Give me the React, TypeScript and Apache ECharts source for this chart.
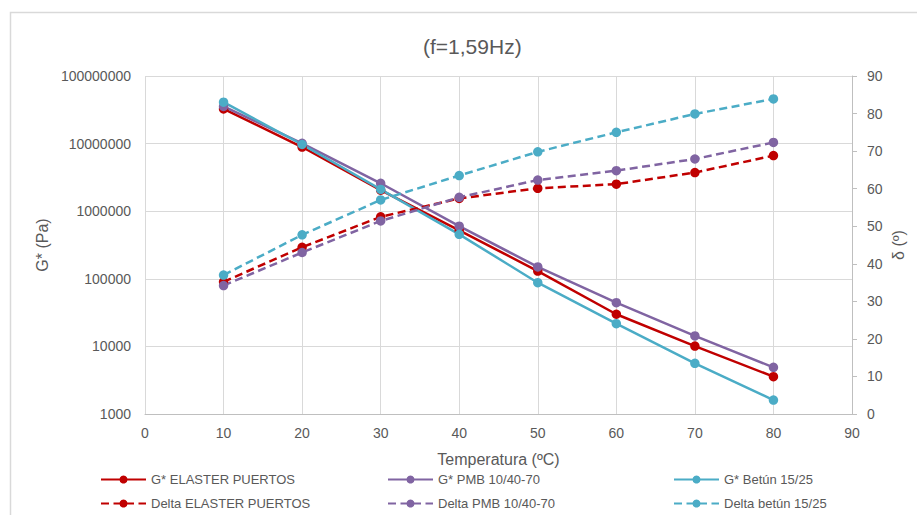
import React, { useEffect, useRef } from "react";
import * as echarts from "echarts";

const temps = [10, 20, 30, 40, 50, 60, 70, 80];
const gElaster = [32500000, 8900000, 2050000, 520000, 130000, 29900, 10100, 3570];
const gPmb = [35500000, 10100000, 2590000, 600000, 150000, 44400, 14300, 4900];
const gBetun = [41000000, 9700000, 2100000, 455000, 87500, 21700, 5620, 1610];
const dElaster = [35.2, 44.4, 52.5, 57.4, 60.1, 61.2, 64.3, 68.8];
const dPmb = [34.2, 43.0, 51.4, 57.7, 62.3, 64.8, 67.9, 72.3];
const dBetun = [37.0, 47.7, 57.0, 63.5, 69.8, 75.0, 79.9, 83.9];

const names = {
  gE: "G* ELASTER PUERTOS",
  gP: "G* PMB 10/40-70",
  gB: "G* Betún 15/25",
  dE: "Delta ELASTER PUERTOS",
  dP: "Delta PMB 10/40-70",
  dB: "Delta betún 15/25",
};

const RED = "#C00000";
const PURPLE = "#8064A2";
const CYAN = "#4BACC6";
const TEXT = "#595959";
const FONT = "'Liberation Sans', Arial, sans-serif";

function pairs(ys: number[]) {
  return temps.map((t, i) => [t, ys[i]]);
}

function mkSeries(name: string, ys: number[], color: string, dashed: boolean, yAxisIndex: number) {
  return {
    name,
    type: "line",
    yAxisIndex,
    data: pairs(ys),
    symbol: "circle",
    symbolSize: 9.5,
    showSymbol: true,
    itemStyle: { color },
    lineStyle: { color, width: 2.5, type: dashed ? [8, 4.5] : "solid" },
  };
}

export default function App() {
  const ref = useRef<HTMLDivElement>(null);
  useEffect(() => {
    if (!ref.current) return;
    const chart = echarts.init(ref.current, undefined, { renderer: "svg" });
    const legendItem = (name: string, left: number, top: number) => ({
      orient: "horizontal",
      left,
      top,
      itemWidth: 45,
      itemHeight: 10,
      itemGap: 0,
      padding: 0,
      textStyle: { color: TEXT, fontSize: 13, fontFamily: FONT },
      selectedMode: false,
      data: [name],
    });
    const row1 = 473;
    const row2 = 497;
    chart.setOption({
      animation: false,
      backgroundColor: "#fff",
      textStyle: { fontFamily: FONT },
      title: {
        text: "(f=1,59Hz)",
        left: 418,
        top: 31,
        textStyle: { color: TEXT, fontSize: 21, fontWeight: "normal", fontFamily: FONT },
      },
      graphic: [
        {
          type: "rect",
          silent: true,
          z: -10,
          shape: { x: 10.5, y: 12.5, width: 1000, height: 1000 },
          style: { fill: "none", stroke: "#D9D9D9", lineWidth: 1.5 },
        },
      ],
      legend: [
        legendItem(names.gE, 100, row1),
        legendItem(names.dE, 100, row2),
        legendItem(names.gP, 387, row1),
        legendItem(names.dP, 387, row2),
        legendItem(names.gB, 673, row1),
        legendItem(names.dB, 673, row2),
      ],
      grid: { left: 145, right: 65, top: 76, bottom: 101, containLabel: false },
      xAxis: {
        type: "value",
        min: 0,
        max: 90,
        interval: 10,
        name: "Temperatura (ºC)",
        nameLocation: "middle",
        nameGap: 37,
        nameTextStyle: { color: TEXT, fontSize: 16, fontFamily: FONT },
        axisLine: { show: true, lineStyle: { color: "#BFBFBF", width: 1 } },
        axisTick: { show: false },
        axisLabel: { color: TEXT, fontSize: 14, margin: 12, fontFamily: FONT },
        splitLine: { show: true, lineStyle: { color: "#D9D9D9", width: 1 } },
      },
      yAxis: [
        {
          type: "log",
          logBase: 10,
          min: 1000,
          max: 100000000,
          name: "G* (Pa)",
          nameLocation: "middle",
          nameGap: 94,
          nameRotate: 90,
          nameTextStyle: { color: TEXT, fontSize: 16, fontFamily: FONT },
          axisLine: { show: false },
          axisTick: { show: false },
          axisLabel: {
            color: TEXT,
            fontSize: 14,
            margin: 14,
            fontFamily: FONT,
            formatter: (v: number) => String(Math.round(v)),
          },
          splitLine: { show: true, lineStyle: { color: "#D9D9D9", width: 1 } },
        },
        {
          type: "value",
          min: 0,
          max: 90,
          interval: 10,
          position: "right",
          name: "δ (º)",
          nameLocation: "middle",
          nameGap: 38,
          nameMoveOverlap: false,
          nameRotate: 90,
          nameTextStyle: { color: TEXT, fontSize: 16, fontFamily: FONT },
          axisLine: { show: true, lineStyle: { color: "#BFBFBF", width: 1 } },
          axisTick: { show: true, inside: false, length: 5, lineStyle: { color: "#BFBFBF" } },
          axisLabel: { color: TEXT, fontSize: 14, margin: 15, fontFamily: FONT },
          splitLine: { show: false },
        },
      ],
      series: [
        mkSeries(names.gE, gElaster, RED, false, 0),
        mkSeries(names.gP, gPmb, PURPLE, false, 0),
        mkSeries(names.gB, gBetun, CYAN, false, 0),
        mkSeries(names.dE, dElaster, RED, true, 1),
        mkSeries(names.dP, dPmb, PURPLE, true, 1),
        mkSeries(names.dB, dBetun, CYAN, true, 1),
      ],
    });
    return () => chart.dispose();
  }, []);
  return (
    <div
      ref={ref}
      style={{ position: "fixed", left: 0, top: 0, width: 917, height: 515 }}
    />
  );
}
